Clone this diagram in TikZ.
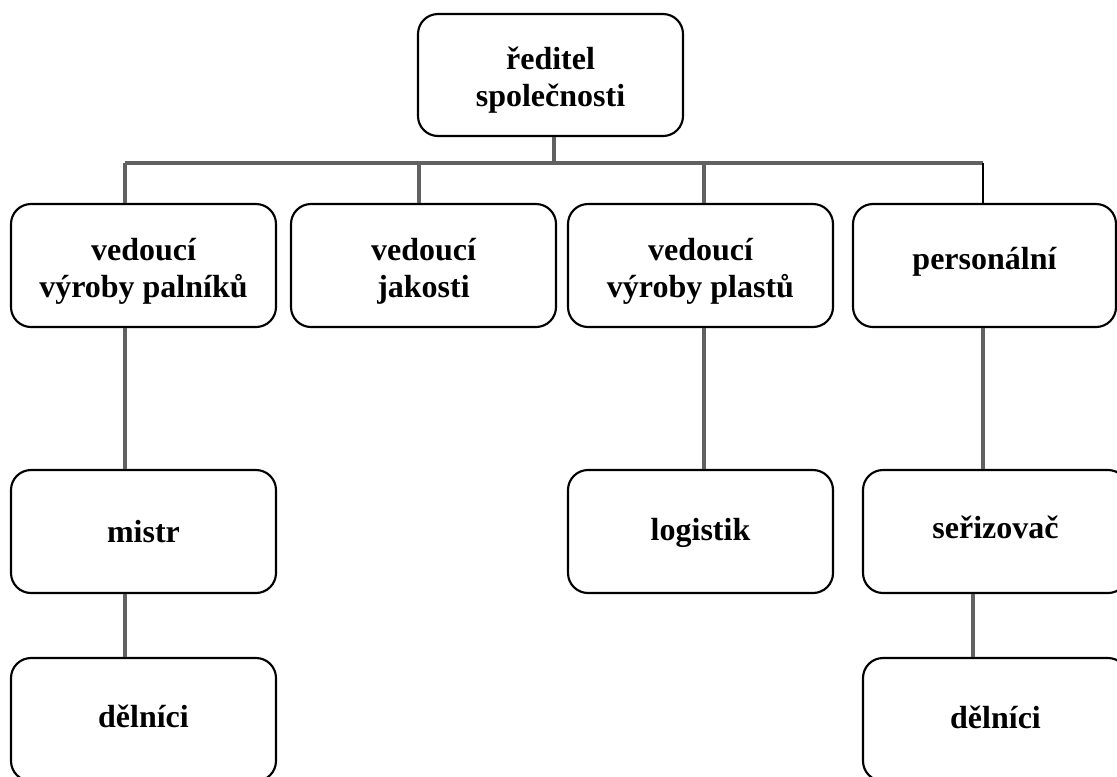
\documentclass[tikz,border=0pt]{standalone}
\usepackage{fontspec}
\setmainfont{Liberation Serif}
\begin{document}
\begin{tikzpicture}[x=0.75pt,y=-0.75pt,
  box/.style={draw=black,line width=1.6pt,rounded corners=15pt,
    minimum width=198.75pt,minimum height=92.25pt,inner sep=0pt},
  txt/.style={align=center,inner sep=0pt,
    font=\fontsize{24}{27.75}\selectfont\bfseries},
  one/.style={txt,text height=16pt,text depth=0pt},
  two/.style={txt,yshift=-4pt},
  link/.style={draw=black!62,line width=2.5pt},
  blink/.style={draw=black,line width=2pt}]
\useasboundingbox (0,0) rectangle (1117,776);
\clip (0,0) rectangle (1117,776);
% boxes
\node[box,minimum height=91.5pt,label={[two]center:ředitel\\společnosti}] (top) at (550.5,75) {};
\node[box,label={[two]center:vedoucí\\výroby palníků}] (b1) at (143.5,265.5) {};
\node[box,label={[two]center:vedoucí\\jakosti}] (b2) at (423.5,265.5) {};
\node[box,label={[two]center:vedoucí\\výroby plastů}] (b3) at (700.5,265.5) {};
\node[box,minimum width=197.25pt,label={[one,yshift=5pt]center:personální}] (b4) at (984.5,265.5) {};
\node[box,label={[one]center:mistr}] (m) at (143.5,531.5) {};
\node[box,label={[one,yshift=1.5pt]center:logistik}] (l) at (700.5,531.5) {};
\node[box,label={[one,yshift=3pt]center:seřizovač}] (s) at (995.5,531.5) {};
\node[box,label={[one,yshift=2pt]center:dělníci}] (d1) at (143.5,719.5) {};
\node[box,label={[one,yshift=1.5pt]center:dělníci}] (d2) at (995.5,719.5) {};
% helper coordinates
\coordinate (bus) at (554,163);
\coordinate (c1) at (125,163);
\coordinate (c2) at (419,163);
\coordinate (c3) at (704,163);
\coordinate (c4) at (983,163);
\coordinate (c5) at (973,600);
% connectors
\draw[link] (top.south -| bus) -- (bus);
\draw[link] (c1) -- (c4);
\draw[link] (c1) -- (b1.north -| c1);
\draw[link] (c2) -- (b2.north -| c2);
\draw[link] (c3) -- (b3.north -| c3);
\draw[blink] (c4) -- (b4.north -| c4);
\draw[link] (b1.south -| c1) -- (m.north -| c1);
\draw[link] (b3.south -| c3) -- (l.north -| c3);
\draw[link] (b4.south -| c4) -- (s.north -| c4);
\draw[link] (m.south -| c1) -- (d1.north -| c1);
\draw[link] (s.south -| c5) -- (d2.north -| c5);
\end{tikzpicture}
\end{document}
